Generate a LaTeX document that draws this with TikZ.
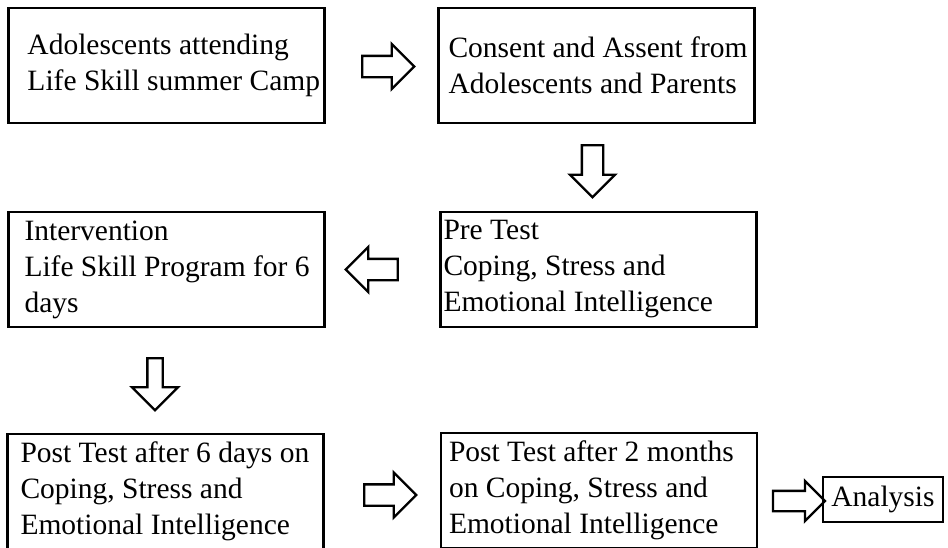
\documentclass[tikz,border=0pt]{standalone}
\usepackage{fontspec}
\setmainfont{Liberation Serif}
\usepackage{tikz}
\usetikzlibrary{shapes.arrows}
\newcommand{\stagefont}{\fontsize{29.5}{36}\selectfont}
\tikzstyle{stage} = [rectangle, 
minimum height=115pt, 
text width=312pt, 
inner xsep=2pt, 
inner ysep=0pt, 
align=flush left, 
draw=black, 
line width=2.3pt, 
font=\stagefont]
\tikzstyle{result} = [rectangle, 
minimum width=120pt, 
minimum height=45pt, 
draw=black, 
line width=2.3pt, 
font=\stagefont]
\tikzstyle{flow} = [single arrow, 
minimum height=52pt, 
inner xsep=0pt, 
inner ysep=9.5pt, 
single arrow head extend=12pt, 
draw=black, 
line width=2.3pt]
\tikzstyle{flowdown} = [flow, 
shape border rotate=270, 
inner xsep=9.5pt, 
inner ysep=0pt]
\tikzset{textindent/.style={execute at begin node={\leftskip=#1}}}

\begin{document}
\begin{tikzpicture}[node distance=204pt]
\useasboundingbox (0pt,0pt) rectangle (948pt,-547pt);

% Nodes
\node (camp) [stage, textindent=17pt] at (166.5pt,-65.5pt) {Adolescents attending\\Life Skill summer Camp};
\node (consent) [stage, textindent=8pt, right of=camp, xshift=226pt] {Consent and Assent from\\Adolescents and Parents};
\node (pretest) [stage, textindent=1pt, below of=consent, xshift=2pt] {Pre Test\\Coping, Stress and\\Emotional Intelligence};
\node (program) [stage, textindent=14pt, below of=camp] {Intervention\\Life Skill Program for 6\\days};
\node (posttest1) [stage, textindent=11pt, below of=program, xshift=-1pt, yshift=-18pt] {Post Test after 6 days on\\Coping, Stress and\\Emotional Intelligence};
\node (posttest2) [stage, textindent=6pt, right of=posttest1, xshift=229.5pt, yshift=1pt] {Post Test after 2 months\\on Coping, Stress and\\Emotional Intelligence};
\node (analysis) [result, right of=posttest2, xshift=80pt, yshift=-9pt] {Analysis};

% Arrows
\node (campconsent) [flow, right of=camp, node distance=216.5pt, yshift=-1pt] {};
\node (consentpre) [flowdown, below of=consent, node distance=100.5pt, xshift=-4pt] {};
\node (preprogram) [flow, shape border rotate=180, left of=pretest, node distance=221.5pt] {};
\node (programpost) [flowdown, inner xsep=6.5pt, single arrow head extend=15.5pt, below of=program, node distance=111pt, xshift=-11.5pt] {};
\node (postpost) [flow, right of=posttest1, node distance=219.5pt, yshift=-3.5pt] {};
\node (postanalysis) [flow, inner ysep=9pt, single arrow head extend=10pt, right of=posttest2, node distance=195pt, yshift=-10.5pt] {};

\end{tikzpicture}
\end{document}
